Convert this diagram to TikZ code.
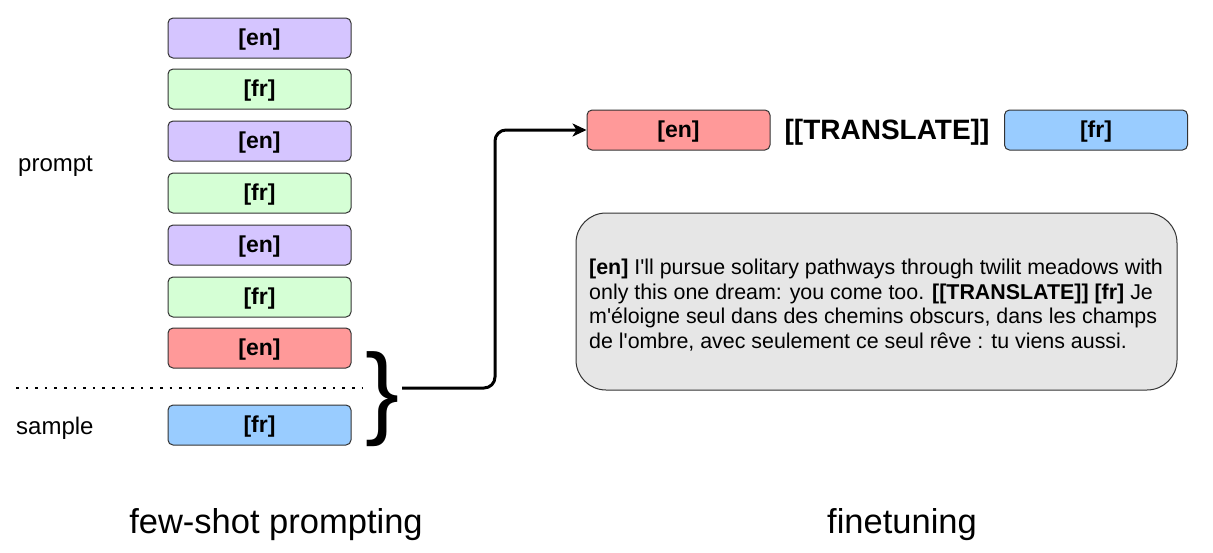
\documentclass[tikz,border=0pt]{standalone}
\usepackage{fontspec}
\setmainfont{Liberation Sans}[Ligatures=TeXOff]
\usetikzlibrary{arrows.meta}
\definecolor{cpurple}{HTML}{D5C5FF}
\definecolor{cgreen}{HTML}{D5FFD5}
\definecolor{cred}{HTML}{FF9999}
\definecolor{cblue}{HTML}{99CCFF}
\definecolor{cgray}{HTML}{E6E6E6}
\definecolor{cborder}{HTML}{333333}
\tikzset{
  tok/.style={draw=cborder, line width=1pt, rounded corners=5pt, minimum width=183pt, minimum height=40pt, inner sep=0pt,
    text height=17pt, text depth=3pt,
    font=\fontsize{23}{27}\selectfont\bfseries},
  lab/.style={font=\fontsize{24}{28}\selectfont, inner sep=0pt},
  title/.style={font=\fontsize{34.5}{40}\selectfont, inner sep=0pt},
  arr/.style={line width=3pt, rounded corners=11pt, -{Stealth[length=14pt,width=13pt,inset=4pt]}},
}
\begin{document}
\begin{tikzpicture}[x=1pt,y=-1pt]
\useasboundingbox (0,0) rectangle (1213,552);
% left stack
\node[tok, fill=cpurple] (e1) at (259.5,38) {[en]};
\node[tok, fill=cgreen]  (f1) at (259.5,89) {[fr]};
\node[tok, fill=cpurple] (e2) at (259.5,141) {[en]};
\node[tok, fill=cgreen]  (f2) at (259.5,193) {[fr]};
\node[tok, fill=cpurple] (e3) at (259.5,245) {[en]};
\node[tok, fill=cgreen]  (f3) at (259.5,297) {[fr]};
\node[tok, fill=cred]    (e4) at (259.5,348) {[en]};
\node[tok, fill=cblue]   (f4) at (259.5,425) {[fr]};
\node[lab, anchor=west] (prompt) at (18,166) {prompt};
\node[lab, anchor=west] (sample) at (16,428) {sample};
\coordinate (dl) at (16,388);
\coordinate (dr) at (362,388);
\draw[line width=2.5pt, dash pattern=on 2.5pt off 7.1pt] (dl) -- (dr);
\node[inner sep=0pt, font=\fontsize{102}{102}\selectfont] (brace) at (383,399) {\}};
\coordinate (bs) at (402,388);
% top right
\node[tok, fill=cred]  (ren) at (678.5,130) {[en]};
\node[inner sep=0pt, font=\fontsize{28}{32}\selectfont\bfseries] (tr) at (887,132) {[[TRANSLATE]]};
\node[tok, fill=cblue] (rfr) at (1096,130) {[fr]};
\draw[arr] (bs) -- (495,388) |- (ren.west);
% gray box
\node[draw=cborder, line width=1pt, fill=cgray, rounded corners=30pt, minimum width=601pt, minimum height=177pt] (gb) at (876.5,301.5) {};
\node[anchor=west, align=left, inner sep=0pt, font=\fontsize{21.4}{24.6}\selectfont] (gt) at (589,305)
{\textbf{[en]} I'll pursue solitary pathways through twilit meadows with\\
only this one dream: you come too. \textbf{[[TRANSLATE]] [fr]} Je\\
m'éloigne seul dans des chemins obscurs, dans les champs\\
de l'ombre, avec seulement ce seul rêve : tu viens aussi.};
% titles
\node[title] (t1) at (276,525) {few-shot prompting};
\node[title] (t2) at (902,525) {finetuning};
\end{tikzpicture}
\end{document}
